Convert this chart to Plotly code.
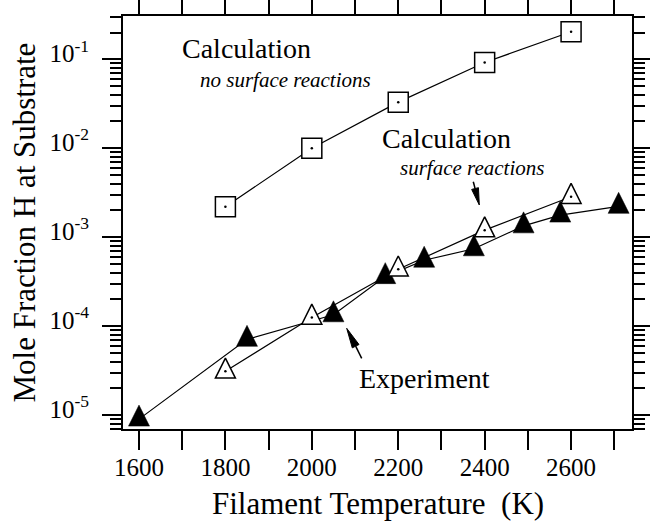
import plotly.graph_objects as go

# ---------------- data ----------------
temp_calc = [1800, 2000, 2200, 2400, 2600]
h_calc_nosurf = [2.2e-3, 1.0e-2, 3.3e-2, 9.2e-2, 0.204]
h_calc_surf = [3.1e-5, 1.25e-4, 4.35e-4, 1.2e-3, 2.85e-3]
temp_exp = [1600, 1850, 2050, 2170, 2260, 2375, 2490, 2575, 2710]
h_exp = [9.0e-6, 7.1e-5, 1.34e-4, 3.6e-4, 5.5e-4, 7.4e-4, 1.34e-3, 1.77e-3, 2.22e-3]

x_tick_vals = [1600, 1800, 2000, 2200, 2400, 2600]
y_tick_vals = [1e-5, 1e-4, 1e-3, 1e-2, 1e-1]
y_tick_text = ["10<sup>-5</sup>", "10<sup>-4</sup>", "10<sup>-3</sup>",
               "10<sup>-2</sup>", "10<sup>-1</sup>"]
y_minor_vals = [k * 10.0 ** e for e in range(-6, 0) for k in range(2, 10)]

FONT = "Liberation Serif"

# plot area geometry (pixels)
W, H = 650, 525
L, R, T, B = 123, 632, 16, 429
PW, PH = R - L, B - T
Y_RANGE = [-5.157, -0.513]


def paper(x, y):
    return (x - L) / PW, (B - y) / PH


fig = go.Figure()

# invisible carrier trace so the long-major-tick overlay axis is drawn
fig.add_trace(go.Scatter(
    x=temp_exp[:1], y=h_exp[:1], yaxis="y2", mode="markers",
    marker=dict(opacity=0), showlegend=False, hoverinfo="skip"))

# Calculation, no surface reactions (open squares)
fig.add_trace(go.Scatter(
    x=temp_calc, y=h_calc_nosurf, mode="lines+markers",
    line=dict(color="black", width=1.2),
    marker=dict(symbol="square", size=20, color="white",
                line=dict(color="black", width=1.5)),
    showlegend=False, hoverinfo="skip"))

# Experiment (filled triangles)
fig.add_trace(go.Scatter(
    x=temp_exp, y=h_exp, mode="lines+markers",
    line=dict(color="black", width=1.2),
    marker=dict(symbol="arrow-down", angle=180, standoff=14, size=21,
                color="black", line=dict(color="black", width=0.5)),
    showlegend=False, hoverinfo="skip"))

# Calculation, surface reactions (open triangles)
fig.add_trace(go.Scatter(
    x=temp_calc, y=h_calc_surf, mode="lines+markers",
    line=dict(color="black", width=1.2),
    marker=dict(symbol="arrow-down", angle=180, standoff=13.3, size=20,
                color="white", line=dict(color="black", width=1.5)),
    showlegend=False, hoverinfo="skip"))

# centre dots of the open markers
fig.add_trace(go.Scatter(
    x=temp_calc + temp_calc, y=h_calc_nosurf + h_calc_surf, mode="markers",
    marker=dict(symbol="circle", size=2.5, color="black"),
    showlegend=False, hoverinfo="skip"))

axis_common = dict(
    showline=True, linewidth=2, linecolor="black", mirror="allticks",
    ticks="outside", tickcolor="black",
    showgrid=False, zeroline=False, automargin=False,
    tickfont=dict(family=FONT, size=25, color="black"),
)

# y axis: every tick (decades + 2..9) short, labels only at decades
y_all_vals = y_tick_vals + y_minor_vals
y_all_text = y_tick_text + [""] * len(y_minor_vals)

fig.update_layout(
    xaxis=dict(
        range=[1563, 2741], tickmode="array", tickvals=x_tick_vals,
        ticklen=19, tickwidth=2,
        minor=dict(ticks="outside", ticklen=11, tickwidth=2,
                   tickcolor="black", tick0=1600, dtick=100, showgrid=False),
        ticklabelstandoff=-4,
        **axis_common),
    yaxis=dict(
        type="log", range=Y_RANGE, tickmode="array",
        tickvals=y_all_vals, ticktext=y_all_text,
        ticklen=11, tickwidth=2,
        ticklabelstandoff=16, ticklabelshift=-6,
        **axis_common),
    yaxis2=dict(
        type="log", range=Y_RANGE, overlaying="y", anchor="x", side="left",
        tickmode="array", tickvals=y_tick_vals, showticklabels=False,
        ticks="outside", ticklen=19, tickwidth=2, tickcolor="black",
        showline=True, linewidth=2, linecolor="black", mirror="allticks",
        showgrid=False, zeroline=False, automargin=False),
)

annotations = []


def add_text(text, px, py, size, italic=False, angle=0):
    x, y = paper(px, py)
    annotations.append(dict(
        text=("<i>%s</i>" % text) if italic else text,
        x=x, y=y, xref="paper", yref="paper", xanchor="center",
        yanchor="middle", showarrow=False, textangle=angle,
        font=dict(family=FONT, size=size, color="black")))


add_text("Calculation", 246, 48.7, 28)
add_text("no surface reactions", 285.3, 79.6, 21, italic=True)
add_text("Calculation", 446.2, 138.3, 28)
add_text("surface reactions", 472.3, 167.9, 21, italic=True)
add_text("Experiment", 424, 378.9, 28)
add_text("Filament Temperature&nbsp; (K)", 378, 504, 31)
add_text("Mole Fraction H at Substrate", 24, 222.5, 31, angle=-90)

shapes = []


def add_arrow(tail, tip, head_len, head_w):
    tx, ty = tail
    hx, hy = tip
    dx, dy = hx - tx, hy - ty
    n = (dx * dx + dy * dy) ** 0.5
    ux, uy = dx / n, dy / n
    bx, by = hx - ux * head_len, hy - uy * head_len
    px_, py_ = -uy, ux
    p1 = paper(bx + px_ * head_w / 2, by + py_ * head_w / 2)
    p2 = paper(bx - px_ * head_w / 2, by - py_ * head_w / 2)
    p3 = paper(hx, hy)
    a = paper(tx, ty)
    b = paper(bx, by)
    shapes.append(dict(type="line", xref="paper", yref="paper",
                       x0=a[0], y0=a[1], x1=b[0], y1=b[1],
                       line=dict(color="black", width=1.5)))
    shapes.append(dict(type="path", xref="paper", yref="paper",
                       path="M%f,%f L%f,%f L%f,%f Z" % (p1 + p2 + p3),
                       fillcolor="black", line=dict(color="black", width=1)))


add_arrow((473.3, 181.7), (479.3, 205), 17, 7)
add_arrow((361.7, 358.3), (346.7, 328.3), 20, 7.5)

fig.update_layout(
    width=W, height=H,
    margin=dict(l=L, r=W - R, t=T, b=H - B, autoexpand=False),
    paper_bgcolor="white", plot_bgcolor="white",
    annotations=annotations, shapes=shapes,
    showlegend=False,
)

fig.write_html("out.html")
